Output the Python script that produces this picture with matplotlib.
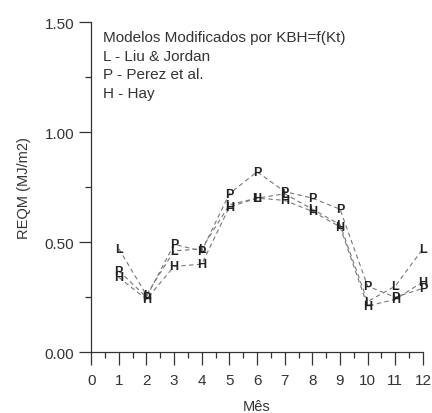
import matplotlib
matplotlib.use("Agg")
import matplotlib.pyplot as plt
from matplotlib.ticker import MultipleLocator

plt.rcParams['font.family'] = ['Liberation Sans', 'DejaVu Sans']

# valores
meses = [1, 2, 3, 4, 5, 6, 7, 8, 9, 10, 11, 12]
liu_jordan = [0.47, 0.26, 0.46, 0.47, 0.67, 0.70, 0.72, 0.65, 0.58, 0.23, 0.30, 0.47]
perez = [0.37, 0.25, 0.49, 0.46, 0.72, 0.82, 0.73, 0.70, 0.65, 0.30, 0.25, 0.29]
hay = [0.34, 0.24, 0.39, 0.40, 0.66, 0.70, 0.69, 0.64, 0.57, 0.21, 0.24, 0.32]

titulo = 'Modelos Modificados por KBH=f(Kt)'
legenda = ['L - Liu & Jordan', 'P - Perez et al.', 'H - Hay']

cinza = '#333333'

fig = plt.figure(figsize=(4.32, 4.14), dpi=100)
ax = fig.add_axes([0.211, 0.147, 0.768, 0.797])

for serie, letra in [(liu_jordan, 'L'), (perez, 'P'), (hay, 'H')]:
    ax.plot(meses, serie, linestyle=(0, (4, 3)), color='#777777', linewidth=0.8)
    for m, v in zip(meses, serie):
        ax.text(m, v, letra, ha='center', va='center', fontsize=9,
                fontweight='bold', color='#222222')

ax.set_xlim(0, 12)
ax.set_ylim(0, 1.5)
ax.xaxis.set_major_locator(MultipleLocator(1))
ax.xaxis.set_minor_locator(MultipleLocator(0.5))
ax.yaxis.set_major_locator(MultipleLocator(0.5))
ax.yaxis.set_minor_locator(MultipleLocator(0.25))
ax.yaxis.set_major_formatter(lambda v, p: '%.2f' % v)

ax.spines['top'].set_visible(False)
ax.spines['right'].set_visible(False)
for s in ['left', 'bottom']:
    ax.spines[s].set_color(cinza)
    ax.spines[s].set_linewidth(0.9)

ax.tick_params(which='major', length=9, width=0.9, color=cinza,
               labelsize=11, labelcolor=cinza)
ax.tick_params(which='minor', length=4.5, width=0.9, color=cinza)
ax.tick_params(axis='x', pad=6)
ax.tick_params(axis='y', pad=3)

ax.set_xlabel('Mês', fontsize=10.5, color=cinza, labelpad=9)
ax.set_ylabel('REQM (MJ/m2)', fontsize=10.5, color=cinza, labelpad=10)

ax.text(0.035, 0.975, titulo, transform=ax.transAxes, fontsize=11,
        color=cinza, va='top')
for i, t in enumerate(legenda):
    ax.text(0.035, 0.92 - i * 0.056, t, transform=ax.transAxes,
            fontsize=11, color=cinza, va='top')

fig.savefig('out.png', dpi=100)
